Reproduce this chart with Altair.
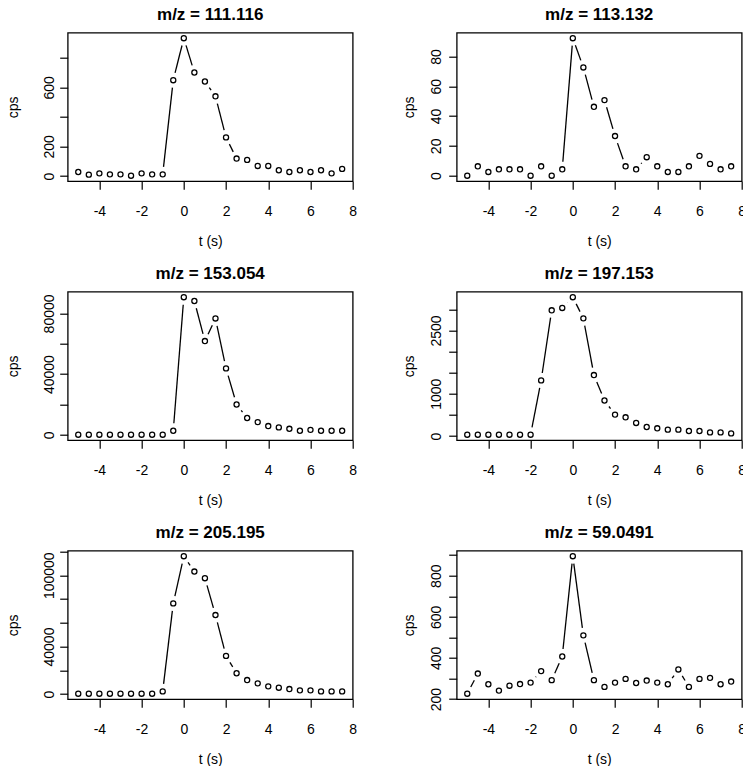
import altair as alt
import pandas as pd
import math

# ---------------- data ----------------
t_s = [-5, -4.5, -4, -3.5, -3, -2.5, -2, -1.5, -1, -0.5, 0, 0.5, 1, 1.5,
       2, 2.5, 3, 3.5, 4, 4.5, 5, 5.5, 6, 6.5, 7, 7.5]

titles = ["m/z = 111.116", "m/z = 113.132", "m/z = 153.054",
          "m/z = 197.153", "m/z = 205.195", "m/z = 59.0491"]

cps_111 = [27, 9, 18, 11, 11, 2, 18, 11, 11, 648, 932, 700, 639, 539, 261,
           118, 109, 68, 68, 39, 27, 39, 27, 39, 18, 48]
cps_113 = [0, 6.3, 2.5, 4.3, 4.3, 4.3, 0, 6.3, 0, 4.3, 92.2, 72.6, 46.2,
           50.7, 26.6, 6.3, 4.3, 12.4, 6.3, 2.5, 2.5, 6.3, 13.3, 7.9, 4.3, 6.3]
cps_153 = [100, 100, 100, 100, 100, 100, 100, 100, 100, 2700, 90700, 88200,
           61800, 76700, 43800, 20000, 11100, 8400, 5800, 4900, 4000, 2700,
           3300, 2700, 2700, 2700]
cps_197 = [32, 32, 32, 32, 32, 32, 32, 1317, 2976, 3032, 3286, 2786, 1444,
           841, 508, 444, 310, 214, 183, 151, 151, 119, 119, 87, 87, 63]
cps_205 = [300, 300, 300, 300, 300, 300, 300, 300, 2250, 76300, 116000,
           103100, 97500, 66500, 32100, 17500, 11800, 9000, 6500, 5350, 4200,
           3100, 3100, 2250, 2250, 2250]
cps_59 = [226, 324, 272, 241, 265, 273, 280, 336, 292, 407, 895, 510, 292,
          259, 280, 298, 278, 290, 280, 272, 344, 259, 298, 303, 272, 285]

series = [cps_111, cps_113, cps_153, cps_197, cps_205, cps_59]

y_ticks = [
    [0, 200, 400, 600, 800],
    [0, 20, 40, 60, 80],
    [0, 20000, 40000, 60000, 80000],
    [0, 500, 1000, 1500, 2000, 2500, 3000],
    [0, 20000, 40000, 60000, 80000, 100000, 120000],
    [200, 300, 400, 500, 600, 700, 800, 900],
]
y_labels = [
    [0, 200, 600],
    [0, 20, 40, 60, 80],
    [0, 40000, 80000],
    [0, 1000, 2500],
    [0, 40000, 100000],
    [200, 400, 600, 800],
]
x_ticks = [-4, -2, 0, 2, 4, 6, 8]

# ---------------- layout ----------------
W, H = 285, 148.5
XDOM = [-5.5, 8]
GAP = 7.5  # px gap around points (R type="b")
FONT = "Liberation Sans"
LEFT, TOP = 59.7, 24.7          # page position of first plot box minus 8px margin
PAGE_W, PAGE_H = 735, 758


def panel(i, col):
    ys = series[i]
    lo, hi = min(ys), max(ys)
    r = hi - lo
    ydom = [lo - 0.04 * r, hi + 0.04 * r]
    sx = W / (XDOM[1] - XDOM[0])
    sy = H / (ydom[1] - ydom[0])

    pts = pd.DataFrame({"t": t_s, "cps": ys})

    segs = []
    for k in range(len(t_s) - 1):
        x0, y0, x1, y1 = t_s[k], ys[k], t_s[k + 1], ys[k + 1]
        dxp, dyp = (x1 - x0) * sx, (y1 - y0) * sy
        d = math.hypot(dxp, dyp)
        if d > 2 * GAP:
            f = GAP / d
            segs.append({"xa": x0 + f * (x1 - x0), "ya": y0 + f * (y1 - y0),
                         "xb": x1 - f * (x1 - x0), "yb": y1 - f * (y1 - y0)})
    segdf = pd.DataFrame(segs)

    yt = [v for v in y_ticks[i] if ydom[0] <= v <= ydom[1]]
    lab_list = ",".join(str(v) for v in y_labels[i])
    lab_expr = f"indexof([{lab_list}], datum.value) >= 0 ? '' + datum.value : ''"

    xscale = alt.Scale(domain=XDOM, nice=False, zero=False)
    yscale = alt.Scale(domain=ydom, nice=False, zero=False)

    xaxis = alt.Axis(values=x_ticks, labelExpr="'' + datum.value", title="t (s)",
                     labelBaseline="alphabetic", labelPadding=26,
                     titleX=W / 2, titleY=64.5, titleBaseline="alphabetic",
                     titleAlign="center", labelFlush=False, labelOverlap=False)
    ypad = 6 if col == 0 else 8
    ytx = -50 if col == 0 else -43
    yaxis = alt.Axis(values=yt, labelExpr=lab_expr, title="cps",
                     labelAngle=270, labelAlign="center",
                     labelBaseline="alphabetic", labelPadding=ypad,
                     titleAngle=270, titleX=ytx, titleY=H / 2,
                     titleBaseline="alphabetic", titleAlign="center",
                     labelFlush=False, labelOverlap=False)

    seg = alt.Chart(segdf).mark_rule(color="black", strokeWidth=1.3).encode(
        x=alt.X("xa:Q", scale=xscale, axis=xaxis),
        x2="xb:Q",
        y=alt.Y("ya:Q", scale=yscale, axis=yaxis),
        y2="yb:Q",
    )
    dots = alt.Chart(pts).mark_point(shape="circle", size=26, filled=False,
                                     color="black", strokeWidth=1.3,
                                     opacity=1).encode(
        x=alt.X("t:Q", scale=xscale, axis=xaxis),
        y=alt.Y("cps:Q", scale=yscale, axis=yaxis),
    )
    ttl = alt.Chart(pd.DataFrame({"title": [titles[i]]})).mark_text(
        font=FONT, fontSize=17, fontWeight="bold", color="black",
        align="center", baseline="alphabetic"
    ).encode(
        x=alt.value(W / 2), y=alt.value(-12.7), text="title:N"
    )
    return alt.layer(seg, dots, ttl).properties(width=W, height=H)


panels = [panel(i, i % 2) for i in range(6)]

chart = alt.concat(*panels, columns=2, spacing={"row": 110, "column": 104},
                   bounds="flush").properties(
    autosize=alt.AutoSizeParams(type="none"),
    padding={"left": LEFT, "top": TOP,
             "right": PAGE_W - LEFT, "bottom": PAGE_H - TOP},
    background="white"
).configure_view(
    stroke="black", strokeWidth=1.3
).configure_axis(
    grid=False, domain=False, tickColor="black", tickSize=8, tickWidth=1.2,
    labelFont=FONT, labelFontSize=14, labelColor="black",
    titleFont=FONT, titleFontSize=14, titleFontWeight="normal",
    titleColor="black", labelOverlap=False
)

chart.save("out.html", embed_options={"renderer": "svg", "actions": False})
